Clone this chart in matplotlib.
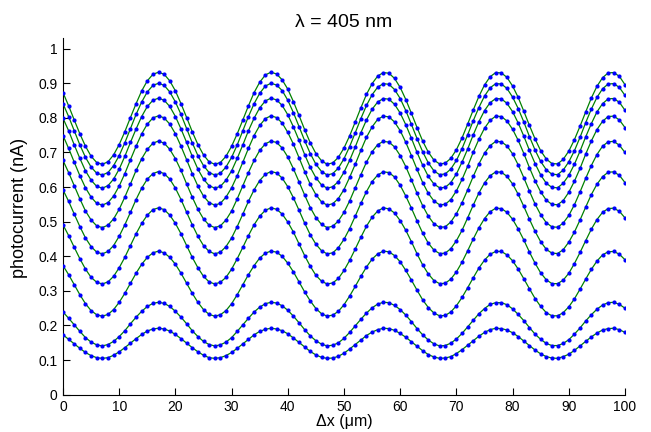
import numpy as np
import matplotlib
matplotlib.use('Agg')
import matplotlib.pyplot as plt

plt.rcParams['font.family'] = ['Liberation Sans', 'DejaVu Sans']

# Stage displacement (um), one sample per micrometre
dx_um = list(range(0, 101))

# Photocurrent for each trace, in pA (divided by 1000 -> nA when plotted)
trace_1 = [873, 835, 794, 754, 718, 689, 671, 666, 673, 693, 723, 760, 801, 841, 878, 907, 926, 932, 926, 907, 878, 841, 801, 760, 723,
           693, 673, 666, 671, 689, 718, 754, 794, 835, 873, 903, 924, 932, 927, 910, 883, 847, 807, 766, 728, 697, 676, 666, 670, 686,
           713, 748, 788, 829, 868, 899, 921, 931, 929, 914, 888, 853, 813, 772, 733, 701, 678, 667, 669, 683, 708, 742, 782, 823, 862,
           895, 919, 931, 930, 917, 892, 859, 819, 778, 739, 705, 681, 668, 667, 680, 704, 737, 776, 817, 857, 891, 916, 930, 931, 920, 896]
trace_2 = [841, 804, 763, 722, 686, 658, 640, 635, 642, 662, 691, 728, 769, 810, 846, 875, 894, 900, 894, 875, 846, 810, 769, 728, 691,
           662, 642, 635, 640, 658, 686, 722, 763, 804, 841, 871, 892, 900, 895, 879, 851, 815, 775, 734, 697, 666, 645, 635, 639, 655,
           682, 717, 757, 798, 836, 867, 889, 899, 897, 882, 856, 821, 781, 740, 702, 670, 647, 636, 638, 652, 677, 711, 751, 792, 830,
           863, 887, 899, 898, 885, 860, 827, 788, 746, 707, 674, 650, 637, 636, 649, 673, 705, 744, 786, 825, 859, 884, 898, 899, 888, 865]
trace_3 = [799, 763, 722, 683, 647, 620, 602, 597, 604, 623, 652, 689, 729, 768, 804, 833, 851, 857, 851, 833, 804, 768, 729, 689, 652,
           623, 604, 597, 602, 620, 647, 683, 722, 763, 799, 829, 849, 857, 852, 836, 809, 774, 735, 694, 657, 627, 606, 597, 601, 616,
           643, 677, 716, 757, 794, 825, 846, 856, 854, 839, 814, 780, 741, 700, 663, 631, 609, 598, 599, 613, 638, 672, 710, 751, 789,
           821, 844, 856, 855, 842, 818, 785, 747, 706, 668, 635, 611, 599, 598, 611, 634, 666, 704, 745, 783, 817, 841, 855, 856, 845, 822]
trace_4 = [749, 712, 672, 633, 598, 571, 553, 548, 555, 574, 603, 639, 679, 718, 754, 782, 800, 806, 800, 782, 754, 718, 679, 639, 603,
           574, 555, 548, 553, 571, 598, 633, 672, 712, 749, 778, 798, 806, 801, 785, 758, 724, 685, 645, 608, 578, 557, 548, 552, 567,
           593, 628, 666, 706, 744, 774, 796, 805, 803, 788, 763, 729, 691, 651, 613, 582, 560, 549, 550, 564, 589, 622, 660, 701, 738,
           770, 793, 805, 804, 791, 767, 735, 697, 656, 618, 586, 562, 550, 549, 561, 585, 617, 654, 695, 733, 766, 790, 804, 805, 794, 772]
trace_5 = [677, 642, 604, 566, 531, 505, 488, 483, 490, 508, 536, 571, 609, 648, 682, 709, 727, 733, 727, 709, 682, 648, 609, 571, 536,
           508, 490, 483, 488, 505, 531, 566, 604, 642, 677, 706, 725, 733, 729, 713, 687, 653, 615, 577, 541, 512, 492, 483, 487, 502,
           527, 560, 598, 636, 672, 702, 723, 732, 730, 716, 691, 659, 621, 582, 546, 516, 494, 484, 485, 499, 523, 555, 592, 631, 667,
           698, 720, 732, 731, 719, 696, 664, 627, 588, 551, 520, 497, 485, 484, 496, 518, 549, 586, 625, 662, 694, 718, 731, 732, 721, 700]
trace_6 = [592, 559, 522, 486, 453, 428, 412, 407, 414, 431, 458, 491, 527, 564, 597, 623, 639, 645, 639, 623, 597, 564, 527, 491, 458,
           431, 414, 407, 412, 428, 453, 486, 522, 559, 592, 619, 637, 645, 641, 626, 601, 569, 533, 496, 462, 435, 416, 407, 410, 425,
           449, 480, 516, 553, 587, 616, 635, 644, 642, 629, 605, 574, 539, 502, 467, 438, 418, 408, 409, 422, 445, 475, 511, 548, 583,
           612, 633, 644, 643, 631, 609, 579, 544, 507, 472, 442, 420, 409, 408, 419, 441, 470, 505, 542, 578, 608, 630, 643, 644, 634, 613]
trace_7 = [491, 460, 426, 393, 363, 339, 325, 320, 326, 342, 367, 397, 431, 465, 495, 519, 535, 540, 535, 519, 495, 465, 431, 397, 367,
           342, 326, 320, 325, 339, 363, 393, 426, 460, 491, 516, 533, 540, 536, 522, 499, 470, 436, 402, 371, 345, 328, 320, 323, 336,
           359, 388, 421, 455, 487, 513, 531, 540, 537, 525, 503, 475, 442, 407, 375, 349, 330, 321, 322, 334, 355, 383, 416, 450, 482,
           509, 529, 539, 538, 527, 507, 479, 447, 412, 380, 352, 332, 321, 321, 331, 351, 379, 411, 445, 478, 506, 527, 538, 539, 530, 511]
trace_8 = [373, 347, 318, 289, 263, 243, 231, 227, 232, 246, 267, 293, 322, 351, 377, 397, 410, 415, 410, 397, 377, 351, 322, 293, 267,
           246, 232, 227, 231, 243, 263, 289, 318, 347, 373, 395, 409, 415, 412, 400, 380, 355, 326, 297, 271, 249, 234, 227, 230, 241,
           260, 285, 313, 342, 369, 392, 407, 415, 413, 402, 384, 359, 331, 302, 274, 252, 236, 228, 229, 239, 257, 281, 309, 338, 366,
           389, 406, 414, 414, 404, 387, 363, 335, 306, 278, 255, 237, 228, 228, 237, 254, 277, 305, 334, 362, 386, 404, 413, 414, 406, 390]
trace_9 = [239, 221, 202, 183, 165, 152, 144, 141, 145, 154, 168, 185, 205, 224, 241, 255, 264, 267, 264, 255,
           241, 224, 205, 185, 168, 154, 145, 141, 144, 152, 165, 183, 202, 221, 239, 253, 263, 267, 265, 257,
           244, 227, 208, 188, 170, 156, 146, 141, 143, 150, 163, 180, 199, 218, 236, 251, 262, 267, 266, 258,
           246, 230, 211, 191, 173, 158, 147, 141, 142, 149, 161, 177, 196, 215, 234, 249, 261, 266, 266, 260,
           248, 232, 214, 194, 175, 160, 148, 142, 142, 148, 159, 175, 193, 213, 231, 247, 259, 266, 267, 261, 250]
trace_10 = [173, 160, 147, 134, 122, 113, 107, 105, 107, 114, 124, 136, 149, 162, 174, 184, 190, 192, 190, 184,
            174, 162, 149, 136, 124, 114, 107, 105, 107, 113, 122, 134, 147, 160, 173, 183, 189, 192, 190, 185,
            176, 164, 151, 138, 125, 115, 108, 105, 106, 111, 120, 132, 145, 158, 171, 181, 188, 192, 191, 186,
            177, 166, 153, 140, 127, 116, 109, 105, 106, 110, 119, 130, 143, 156, 169, 180, 188, 192, 191, 187,
            179, 168, 155, 142, 129, 118, 110, 106, 105, 110, 117, 128, 141, 154, 167, 178, 187, 191, 192, 188, 180]

traces = [trace_1, trace_2, trace_3, trace_4, trace_5, trace_6, trace_7, trace_8, trace_9, trace_10]

x_ticks = [0, 10, 20, 30, 40, 50, 60, 70, 80, 90, 100]
y_ticks = [0, 0.1, 0.2, 0.3, 0.4, 0.5, 0.6, 0.7, 0.8, 0.9, 1.0]
y_tick_labels = ['0', '0.1', '0.2', '0.3', '0.4', '0.5', '0.6', '0.7', '0.8', '0.9', '1']

fig = plt.figure(figsize=(6.51, 4.32), dpi=100)
ax = fig.add_axes([63 / 651, 37.3 / 432, (625 - 63) / 651, (394.7 - 38.3) / 432])
x = np.array(dx_um)
for tr in traces:
    y = np.array(tr) / 1000.0
    ax.plot(x, y, color=(0, 0.5, 0), lw=0.9, zorder=2)
    ax.plot(x, y, 'o', ms=3.0, color=(0, 0, 1), mec='none', zorder=3)

ax.set_xlim(0, 100)
ax.set_ylim(0, 1.03)
ax.set_xticks(x_ticks)
ax.set_yticks(y_ticks)
ax.set_yticklabels(y_tick_labels)
ax.spines['top'].set_visible(False)
ax.spines['right'].set_visible(False)
ax.tick_params(direction='in', length=5, width=0.8, labelsize=10, pad=4)
ax.set_title('λ = 405 nm', fontsize=14, pad=8)
ax.set_xlabel('Δx (μm)', fontsize=11.5, labelpad=0)
ax.set_ylabel('photocurrent (nA)', fontsize=13, labelpad=4)
ax.yaxis.set_label_coords(-0.062, 0.524)
fig.savefig('out.png', dpi=100)
